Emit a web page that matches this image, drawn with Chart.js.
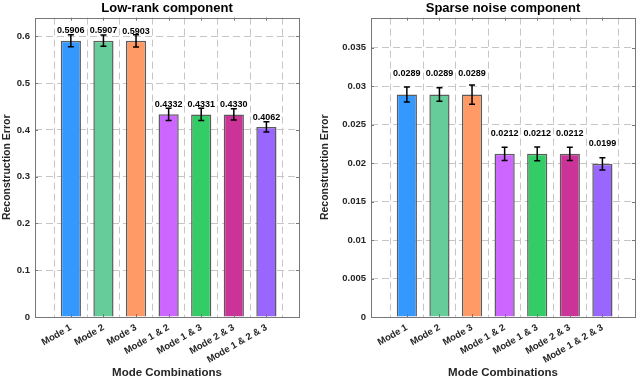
<!DOCTYPE html>
<html>
<head>
<meta charset="utf-8">
<script src="https://cdn.jsdelivr.net/npm/chart.js@4.4.1/dist/chart.umd.min.js"></script>
<style>
  body { margin: 0; background: #fff; }
  .panel { position: absolute; top: 0; width: 318px; height: 380px; }
</style>
</head>
<body>
<div class="panel" style="left:0"><canvas id="lowRank" width="318" height="380"></canvas></div>
<div class="panel" style="left:318px"><canvas id="sparse" width="318" height="380"></canvas></div>
<script>
const modes = ['Mode 1', 'Mode 2', 'Mode 3', 'Mode 1 & 2', 'Mode 1 & 3', 'Mode 2 & 3', 'Mode 1 & 2 & 3'];
const barColors = ['#3399ff', '#66cc99', '#ff9966', '#cc66ff', '#33cc66', '#cc3399', '#9966ff'];

const lowRankError = [0.5906, 0.5907, 0.5903, 0.4332, 0.4331, 0.4330, 0.4062];
const lowRankStd = [0.013, 0.012, 0.013, 0.013, 0.013, 0.012, 0.011];
const lowRankTicks = [0, 0.1, 0.2, 0.3, 0.4, 0.5, 0.6];

const sparseError = [0.0289, 0.0289, 0.0289, 0.0212, 0.0212, 0.0212, 0.0199];
const sparseStd = [0.00097, 0.00087, 0.00125, 0.00087, 0.0009, 0.00087, 0.0008];
const sparseTicks = [0, 0.005, 0.01, 0.015, 0.02, 0.025, 0.03, 0.035];

const ink = '#262626';
const font = '"Liberation Sans", Arial, sans-serif';

// error bars, value labels, box and inner ticks, matlab style
const extras = {
  id: 'extras',
  afterDatasetsDraw(chart, args, opts) {
    const { ctx, chartArea: a, scales: { x, y } } = chart;
    ctx.save();
    ctx.strokeStyle = '#000';
    ctx.lineWidth = 1.5;
    opts.values.forEach((v, i) => {
      const px = x.getPixelForValue(i + 1);
      const top = y.getPixelForValue(v + opts.errors[i]);
      const bot = y.getPixelForValue(v - opts.errors[i]);
      ctx.beginPath();
      ctx.moveTo(px, top); ctx.lineTo(px, bot);
      ctx.moveTo(px - 3, top); ctx.lineTo(px + 3, top);
      ctx.moveTo(px - 3, bot); ctx.lineTo(px + 3, bot);
      ctx.stroke();
    });
    ctx.fillStyle = '#000';
    ctx.font = 'bold 9px ' + font;
    ctx.textAlign = 'center';
    ctx.textBaseline = 'middle';
    opts.values.forEach((v, i) => {
      ctx.fillText(v.toFixed(4), x.getPixelForValue(i + 1), y.getPixelForValue(v + opts.labelShift));
    });
    // box
    ctx.strokeStyle = '#777';
    ctx.lineWidth = 1;
    ctx.strokeRect(Math.round(a.left) + 0.5, Math.round(a.top) + 0.5,
      Math.round(a.right - a.left), Math.round(a.bottom - a.top));
    ctx.beginPath();
    y.ticks.forEach(t => {
      const py = Math.round(y.getPixelForValue(t.value)) + 0.5;
      ctx.moveTo(a.left, py); ctx.lineTo(a.left + 3, py);
      ctx.moveTo(a.right, py); ctx.lineTo(a.right - 3, py);
    });
    x.ticks.forEach(t => {
      const px = Math.round(x.getPixelForValue(t.value)) + 0.5;
      ctx.moveTo(px, a.bottom); ctx.lineTo(px, a.bottom - 3);
      ctx.moveTo(px, a.top); ctx.lineTo(px, a.top + 3);
    });
    ctx.stroke();
    ctx.restore();
  }
};

function makeChart(id, title, values, errors, ticks, yMax, labelShift, yWidth, padRight) {
  new Chart(document.getElementById(id).getContext('2d'), {
    type: 'bar',
    data: {
      datasets: [{
        data: values.map((v, i) => ({ x: i + 1, y: v })),
        backgroundColor: barColors,
        borderColor: '#5c5c5c',
        borderWidth: 1.5,
        barPercentage: 0.62,
        categoryPercentage: 1
      }]
    },
    options: {
      responsive: false,
      animation: false,
      layout: { padding: { left: 0, right: padRight, top: 0, bottom: 0 } },
      plugins: {
        legend: { display: false },
        tooltip: { enabled: false },
        title: {
          display: true, text: title, color: '#000', fullSize: false,
          font: { family: font, size: 13, weight: 'bold' },
          padding: { top: 1, bottom: 1 }
        },
        extras: { values, errors, labelShift }
      },
      scales: {
        x: {
          type: 'linear', min: -0.1, max: 8, offset: false,
          afterBuildTicks: s => { s.ticks = modes.map((m, i) => ({ value: i + 1 })); },
          afterFit: s => { s.height = 63; },
          grid: { color: '#c6c6c6', drawTicks: false },
          border: { display: false, dash: [7, 4] },
          ticks: {
            callback: v => modes[v - 1] || '',
            color: ink, padding: 5, minRotation: 30, maxRotation: 30, autoSkip: false,
            font: { family: font, size: 9.5, weight: 'bold' }
          },
          title: {
            display: true, text: 'Mode Combinations', color: ink, padding: { top: 0, bottom: 0 },
            font: { family: font, size: 11.5, weight: 'bold' }
          }
        },
        y: {
          min: 0, max: yMax,
          afterBuildTicks: s => { s.ticks = ticks.map(v => ({ value: v })); },
          afterFit: s => { s.width = yWidth; },
          grid: { color: '#c6c6c6', drawTicks: false },
          border: { display: false, dash: [7, 4] },
          ticks: {
            callback: v => String(+v.toFixed(4)),
            color: ink, padding: 5,
            font: { family: font, size: 9.5, weight: 'bold' }
          },
          title: {
            display: true, text: 'Reconstruction Error', color: ink, padding: { top: 1, bottom: 2 },
            font: { family: font, size: 10.5, weight: 'bold' }
          }
        }
      }
    },
    plugins: [extras]
  });
}

makeChart('lowRank', 'Low-rank component', lowRankError, lowRankStd, lowRankTicks, 0.64, 0.021, 35, 19);
makeChart('sparse', 'Sparse noise component', sparseError, sparseStd, sparseTicks, 0.0389, 0.0027, 53, 1);
</script>
</body>
</html>
